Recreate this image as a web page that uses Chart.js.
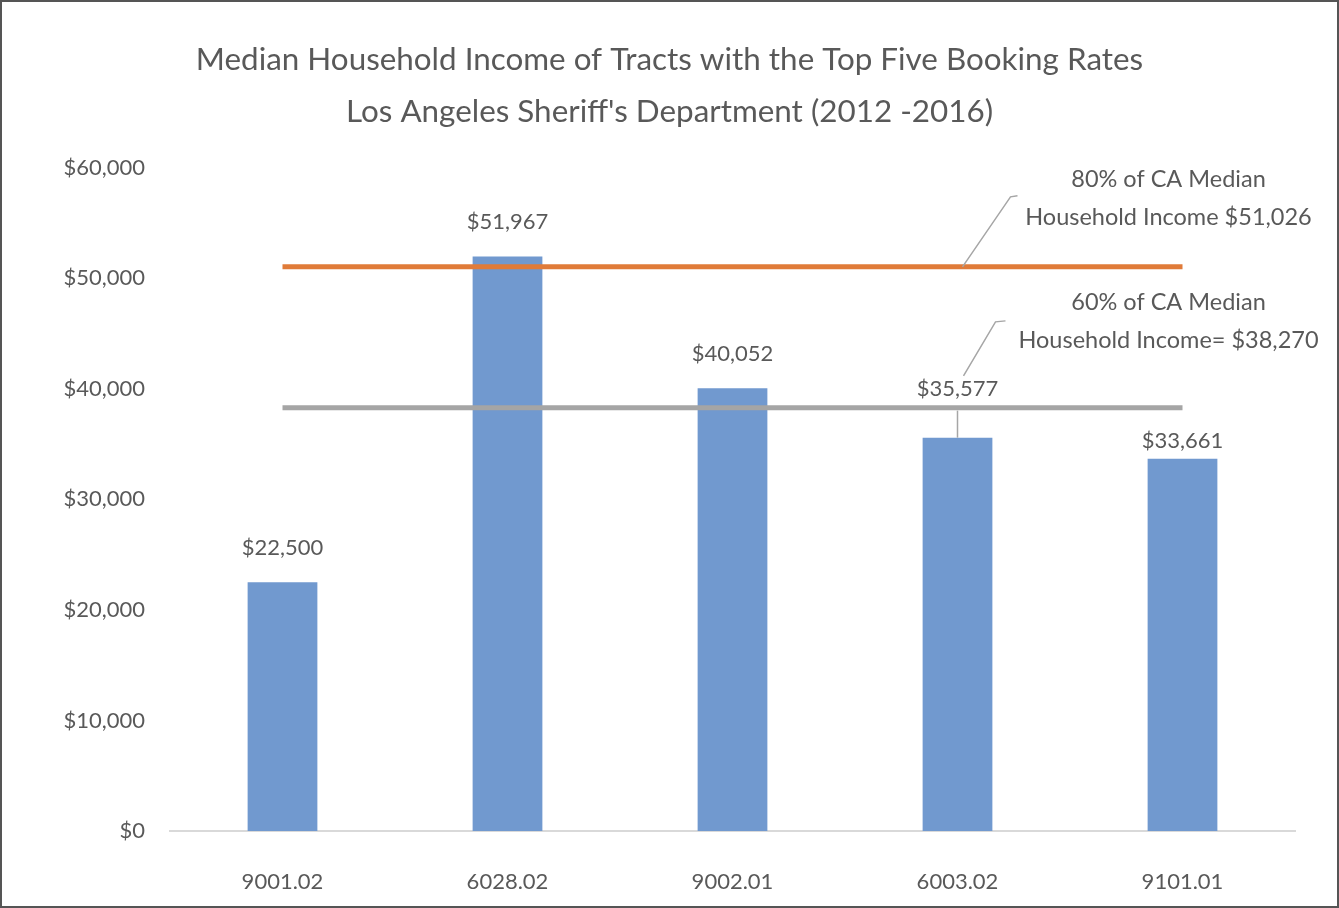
<!DOCTYPE html>
<html>
<head>
<meta charset="utf-8">
<script src="https://cdn.jsdelivr.net/npm/chart.js@4.4.1/dist/chart.umd.min.js"></script>
<style>
    html, body { margin: 0; padding: 0; background: #fff; }
    #wrap {
        width: 1339px;
        height: 908px;
        box-sizing: border-box;
        border: 2px solid #555;
        position: relative;
    }
    #incomeChart { display: block; }
</style>
</head>
<body>
<div id="wrap"><canvas id="incomeChart" width="1335" height="904"></canvas></div>
<script>
// tracts and median household income
const tracts = ['9001.02', '6028.02', '9002.01', '6003.02', '9101.01'];
const incomes = [22500, 51967, 40052, 35577, 33661];

// reference lines (80% and 60% of CA median)
const ca80 = 51026;
const ca60 = 38270;

const yTicks = [0, 10000, 20000, 30000, 40000, 50000, 60000];

const titleLines = [
    'Median Household Income of Tracts with the Top Five Booking Rates',
    "Los Angeles Sheriff's Department (2012 -2016)"
];
const note80 = ['80% of CA Median', 'Household Income $51,026'];
const note60 = ['60% of CA Median', 'Household Income= $38,270'];

const textColor = '#595959';
const fontFamily = 'Lato, "Open Sans", sans-serif';

function money(v) {
    return '$' + v.toLocaleString('en-US');
}

// how far above each bar its value label sits
const labelLift = [34, 35, 34, 49, 18];

const labelsPlugin = {
    id: 'labels',
    afterDatasetsDraw(chart) {
        const ctx = chart.ctx;
        const y = chart.scales.y;
        const bars = chart.getDatasetMeta(2).data;

        ctx.save();
        ctx.font = '22px ' + fontFamily;
        ctx.fillStyle = textColor;
        ctx.textAlign = 'center';
        ctx.textBaseline = 'middle';

        bars.forEach(function (bar, i) {
            ctx.fillText(money(incomes[i]), bar.x, bar.y - labelLift[i]);
        });

        // leader from $35,577 label down to its bar
        ctx.strokeStyle = '#a6a6a6';
        ctx.lineWidth = 1.5;
        ctx.beginPath();
        ctx.moveTo(bars[3].x, bars[3].y - 27);
        ctx.lineTo(bars[3].x, bars[3].y);
        ctx.stroke();

        // notes for the two reference lines
        ctx.font = '23.5px ' + fontFamily;
        const xNote = bars[4].x - 14;
        const y80 = y.getPixelForValue(ca80);
        const y60 = y.getPixelForValue(ca60);

        ctx.fillText(note80[0], xNote, y80 - 87);
        ctx.fillText(note80[1], xNote, y80 - 49);
        ctx.fillText(note60[0], xNote, y60 - 105);
        ctx.fillText(note60[1], xNote, y60 - 67);

        const xs = bars[3].x;
        ctx.beginPath();
        ctx.moveTo(xs + 5, y80);
        ctx.lineTo(xs + 53, y80 - 70);
        ctx.lineTo(xs + 60, y80 - 71);
        ctx.moveTo(xs + 6, y60 - 32);
        ctx.lineTo(xs + 38, y60 - 86);
        ctx.lineTo(xs + 48, y60 - 87);
        ctx.stroke();

        ctx.restore();
    }
};

const ctx = document.getElementById('incomeChart').getContext('2d');

new Chart(ctx, {
    type: 'bar',
    data: {
        labels: tracts,
        datasets: [
            {
                type: 'line',
                label: '80% of CA Median',
                data: tracts.map(function () { return ca80; }),
                borderColor: '#e07b39',
                borderWidth: 5,
                pointRadius: 0,
                fill: false
            },
            {
                type: 'line',
                label: '60% of CA Median',
                data: tracts.map(function () { return ca60; }),
                borderColor: '#a5a5a5',
                borderWidth: 5,
                pointRadius: 0,
                fill: false
            },
            {
                label: 'Median Household Income',
                data: incomes,
                backgroundColor: '#7199cf',
                borderWidth: 0,
                barPercentage: 0.62,
                categoryPercentage: 0.5
            }
        ]
    },
    options: {
        responsive: false,
        animation: false,
        plugins: {
            legend: { display: false },
            tooltip: { enabled: false },
            title: {
                display: true,
                text: titleLines,
                color: textColor,
                font: { family: fontFamily, size: 31.4, weight: 'normal', lineHeight: 1.65 },
                padding: { top: 32, bottom: 30 }
            }
        },
        scales: {
            x: {
                grid: { display: false, drawTicks: false },
                border: { display: true, color: '#d9d9d9', width: 2 },
                ticks: {
                    color: textColor,
                    font: { family: fontFamily, size: 22 },
                    padding: 38
                },
                afterFit: function (scale) { scale.height = 75; }
            },
            y: {
                min: 0,
                max: 60000,
                grid: { display: false, drawTicks: false },
                border: { display: false },
                afterBuildTicks: function (scale) {
                    scale.ticks = yTicks.map(function (v) { return { value: v }; });
                },
                ticks: {
                    color: textColor,
                    font: { family: fontFamily, size: 22 },
                    padding: 25,
                    callback: function (v) { return money(v); }
                },
                afterFit: function (scale) { scale.width = 168; }
            },
            // empty right axis, only to leave room on the right
            yRight: {
                position: 'right',
                grid: { display: false, drawTicks: false },
                border: { display: false },
                ticks: { display: false },
                afterFit: function (scale) { scale.width = 42; }
            }
        }
    },
    plugins: [labelsPlugin]
});
</script>
</body>
</html>
